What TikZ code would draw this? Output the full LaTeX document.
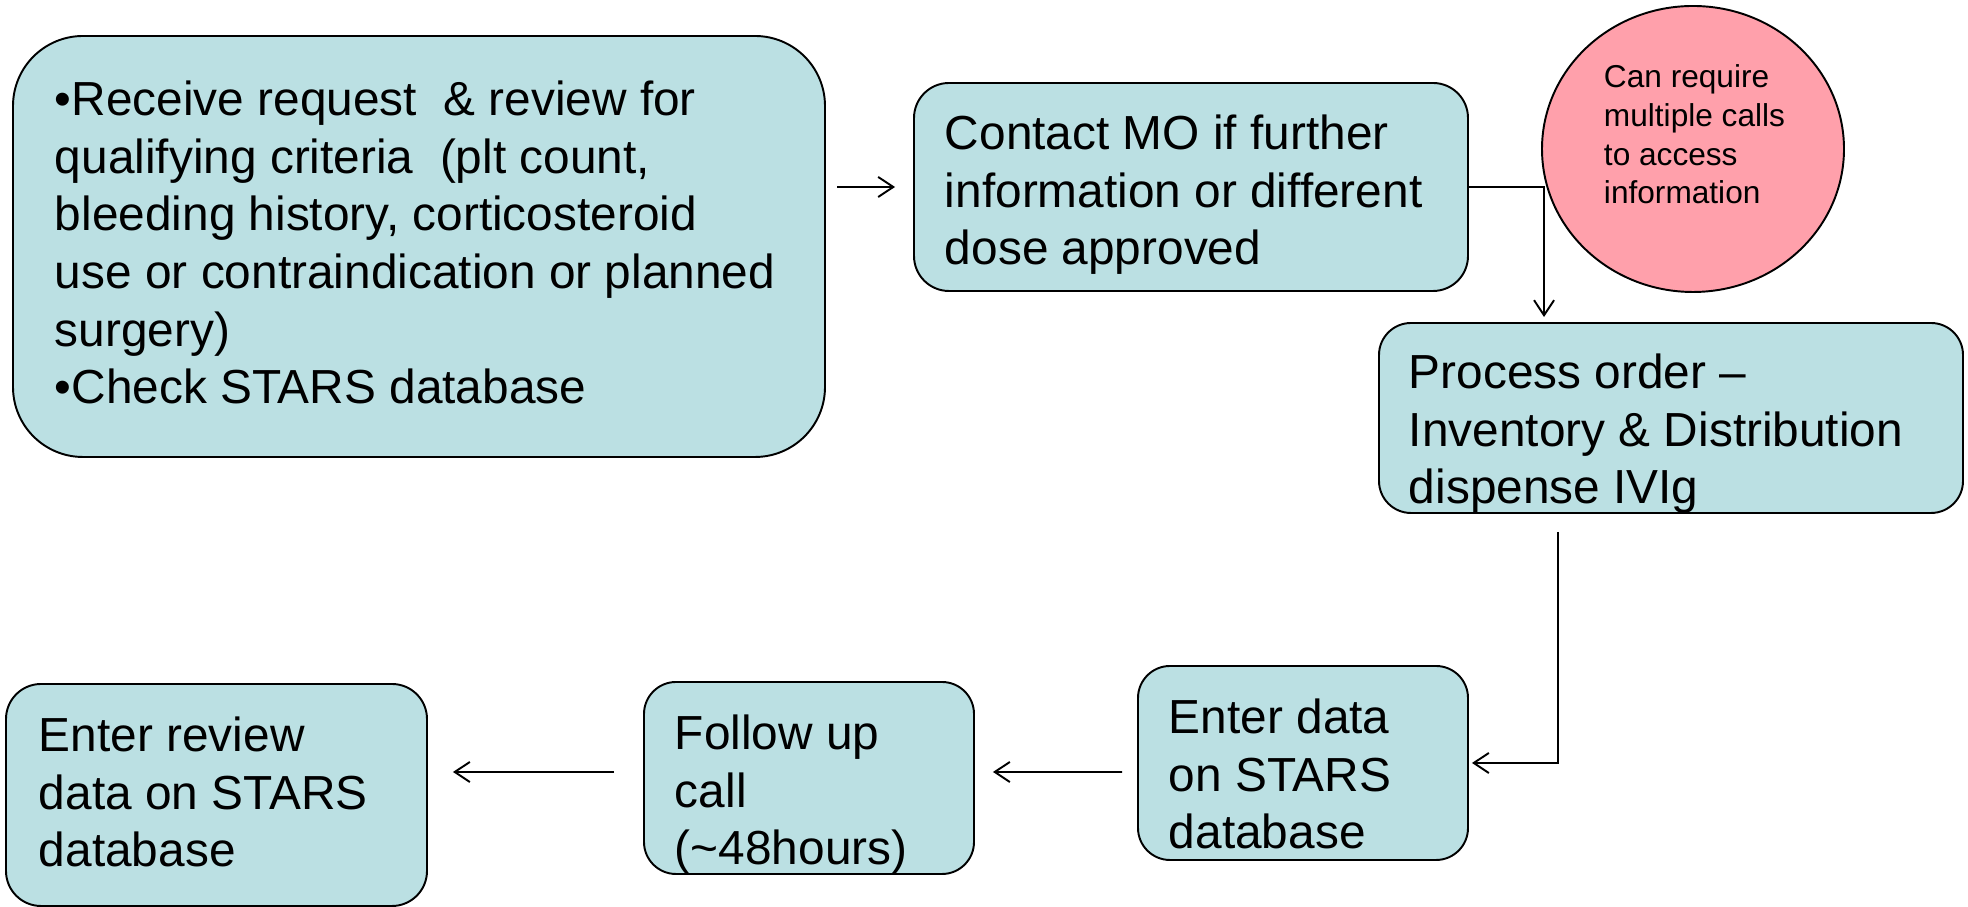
\documentclass[tikz,border=0pt]{standalone}
\usepackage{fontspec}
\setmainfont{Liberation Sans}
\usetikzlibrary{arrows.meta,shapes.geometric}
\definecolor{boxblue}{HTML}{BBE0E3}
\definecolor{notepink}{HTML}{FFA0AB}

\begin{document}
\begin{tikzpicture}[line width=0.55pt, >={Straight Barb[length=4.3pt,width=5.7pt]},
    box/.style={draw, fill=boxblue, rounded corners=0.32cm},
    txt/.style={anchor=north west, inner sep=0pt, align=left, font=\fontsize{13.6}{16.4}\selectfont},
    small/.style={anchor=north west, inner sep=0pt, align=left, font=\fontsize{9}{11}\selectfont}]
	\useasboundingbox (0,0) rectangle (19.68,9.07);

	% boxes
	\node [box, rounded corners=0.7cm, minimum width=8.12cm, minimum height=4.21cm] (recv) at (4.19,6.605) {};
	\node [box, rounded corners=0.35cm, minimum width=5.54cm, minimum height=2.08cm] (contact) at (11.91,7.20) {};
	\node [box, minimum width=5.84cm, minimum height=1.90cm] (process) at (16.71,4.89) {};
	\node [box, minimum width=3.30cm, minimum height=1.94cm] (enter) at (13.03,1.44) {};
	\node [box, minimum width=3.30cm, minimum height=1.92cm] (follow) at (8.09,1.29) {};
	\node [box, rounded corners=0.35cm, minimum width=4.21cm, minimum height=2.22cm] (review) at (2.165,1.12) {};
	\node [draw, ellipse, fill=notepink, minimum width=3.02cm, minimum height=2.86cm] (note) at (16.93,7.58) {};

	% texts
	\node [txt] (recvtxt) at (0.54,8.27) {•Receive request\ \ \& review for\\qualifying criteria\ \ (plt count,\\bleeding history, corticosteroid\\use or contraindication or planned\\surgery)\\•Check STARS database};
	\node [txt] (contacttxt) at (9.44,7.93) {Contact MO if further\\information or different\\dose approved};
	\node [txt] (processtxt) at (14.08,5.54) {Process order –\\Inventory \& Distribution\\dispense IVIg};
	\node [txt] (entertxt) at (11.68,2.09) {Enter data\\on STARS\\database};
	\node [txt] (followtxt) at (6.74,1.93) {Follow up\\call\\(\textasciitilde48hours)};
	\node [txt] (reviewtxt) at (0.38,1.91) {Enter review\\data on STARS\\database};
	\node [small] (notetxt) at (16.03,8.43) {Can require\\multiple calls\\to access\\information};

	% arrows
	\draw [->] ([xshift=-0.76cm]contact.west) -- ([xshift=-0.18cm]contact.west);
	\draw [->, shorten >=0.05cm] (contact.east) -| ([xshift=1.66cm]process.north west);
	\draw [->, shorten >=0.03cm] ([xshift=1.80cm, yshift=-0.18cm]process.south west) |- (enter.east);
	\draw [->, shorten <=0.15cm, shorten >=0.18cm] ([yshift=-0.09cm]enter.west) -- ([yshift=0.06cm]follow.east);
	\draw [->, shorten <=0.29cm, shorten >=0.25cm] ([yshift=0.06cm]follow.west) -- ([yshift=0.06cm]follow.west -| review.east);

\end{tikzpicture}
\end{document}
